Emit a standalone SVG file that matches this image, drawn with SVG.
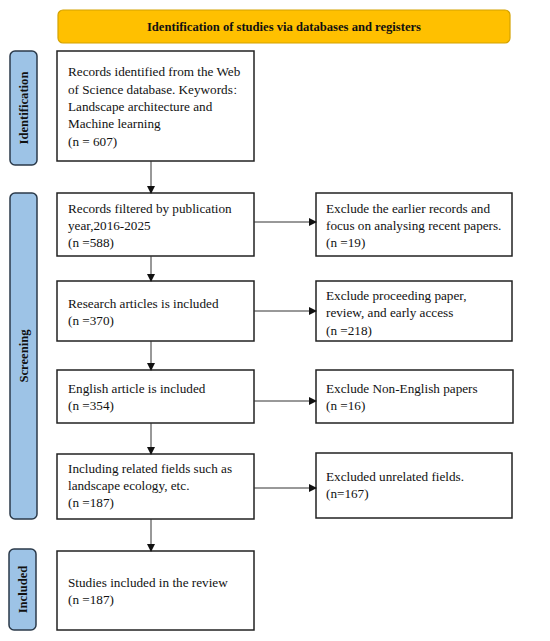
<svg xmlns="http://www.w3.org/2000/svg" width="550" height="641" viewBox="0 0 550 641">
<defs>
<marker id="ah" markerWidth="8" markerHeight="8" refX="7" refY="4" orient="auto" markerUnits="userSpaceOnUse">
<path d="M0,0 L8,4 L0,8 Z" fill="#111"/>
</marker>
<style>
.box{fill:#fff;stroke:#222;stroke-width:1.5}
.side{fill:#9DC3E6;stroke:#2B3A4A;stroke-width:1.5}
.t{font-family:"Liberation Serif","Times New Roman","Noto Sans CJK SC",serif;font-size:13.2px;fill:#111}
.sb{font-family:"Liberation Serif","Times New Roman",serif;font-size:12.6px;font-weight:bold;fill:#111}
.c{stroke:#333;stroke-width:1;fill:none;marker-end:url(#ah)}
</style>
</defs>
<rect width="550" height="641" fill="#fff"/>
<g id="header">
<rect x="58" y="10" width="452" height="33" rx="5" fill="#FFC000" stroke="#D4A200" stroke-width="1.2"/>
<text class="sb" x="284" y="31" text-anchor="middle">Identification of studies via databases and registers</text>
</g>
<g id="lane-identification">
<rect class="side" x="10" y="51" width="27" height="114" rx="5"/>
<text class="sb" transform="translate(28,108) rotate(-90)" text-anchor="middle">Identification</text>
</g>
<g id="lane-screening">
<rect class="side" x="10" y="193" width="27" height="326" rx="5"/>
<text class="sb" transform="translate(28,356) rotate(-90)" text-anchor="middle">Screening</text>
</g>
<g id="lane-included">
<rect class="side" x="9" y="549" width="27" height="81" rx="5"/>
<text class="sb" transform="translate(27,589.5) rotate(-90)" text-anchor="middle">Included</text>
</g>
<g id="n1">
<rect class="box" x="57" y="51" width="197" height="110"/>
<text class="t" x="68" y="76">Records identified from the Web</text>
<text class="t" x="68" y="94">of Science database. Keywords<tspan font-size="10" font-weight="300">：</tspan></text>
<text class="t" x="68" y="111">Landscape architecture and</text>
<text class="t" x="68" y="128">Machine learning</text>
<text class="t" x="68" y="146">(n = 607)</text>
</g>
<g id="n2">
<rect class="box" x="57" y="193" width="197" height="63"/>
<text class="t" x="68" y="213">Records filtered by publication</text>
<text class="t" x="68" y="230">year,2016-2025</text>
<text class="t" x="68" y="247">(n =588)</text>
</g>
<g id="e1">
<rect class="box" x="316" y="193" width="196" height="63"/>
<text class="t" x="326" y="213">Exclude the earlier records and</text>
<text class="t" x="326" y="230">focus on analysing recent papers.</text>
<text class="t" x="326" y="247">(n =19)</text>
</g>
<g id="n3">
<rect class="box" x="57" y="281" width="197" height="60"/>
<text class="t" x="68" y="308">Research articles is included</text>
<text class="t" x="68" y="325">(n =370)</text>
</g>
<g id="e2">
<rect class="box" x="316" y="281" width="196" height="60"/>
<text class="t" x="326" y="300">Exclude proceeding paper,</text>
<text class="t" x="326" y="317">review, and early access</text>
<text class="t" x="326" y="335">(n =218)</text>
</g>
<g id="n4">
<rect class="box" x="57" y="370" width="197" height="53"/>
<text class="t" x="68" y="393">English article is included</text>
<text class="t" x="68" y="410">(n =354)</text>
</g>
<g id="e3">
<rect class="box" x="316" y="370" width="197" height="53"/>
<text class="t" x="326" y="393">Exclude Non-English papers</text>
<text class="t" x="326" y="410">(n =16)</text>
</g>
<g id="n5">
<rect class="box" x="57" y="454" width="197" height="65"/>
<text class="t" x="68" y="473">Including related fields such as</text>
<text class="t" x="68" y="490">landscape ecology, etc.</text>
<text class="t" x="68" y="507">(n =187)</text>
</g>
<g id="e4">
<rect class="box" x="316" y="453" width="196" height="65"/>
<text class="t" x="326" y="481">Excluded unrelated fields.</text>
<text class="t" x="326" y="498">(n=167)</text>
</g>
<g id="n6">
<rect class="box" x="57" y="551" width="197" height="79"/>
<text class="t" x="68" y="587">Studies included in the review</text>
<text class="t" x="68" y="604">(n =187)</text>
</g>
<g id="connectors">
<line class="c" x1="151" y1="161" x2="151" y2="193"/>
<line class="c" x1="151" y1="256" x2="151" y2="281"/>
<line class="c" x1="151" y1="341" x2="151" y2="370"/>
<line class="c" x1="151" y1="423" x2="151" y2="454"/>
<line class="c" x1="151" y1="519" x2="151" y2="551"/>
<line class="c" x1="254" y1="222" x2="316" y2="222"/>
<line class="c" x1="254" y1="311" x2="316" y2="311"/>
<line class="c" x1="254" y1="401" x2="316" y2="401"/>
<line class="c" x1="254" y1="488" x2="316" y2="488"/>
</g>
</svg>
